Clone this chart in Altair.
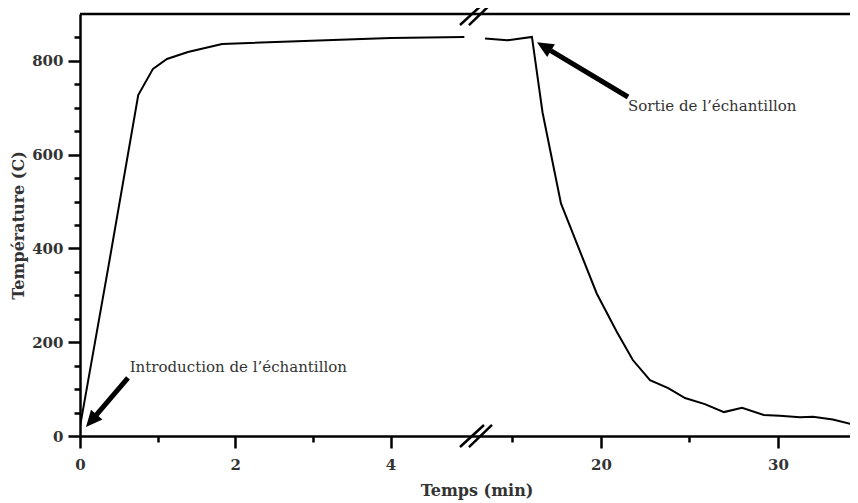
import altair as alt
import pandas as pd

# ---- data ----
# furnace phase (left part of the broken time axis)
left_time = [0, 0.37, 0.75, 0.94, 1.12, 1.39, 1.83, 4.0, 4.95]
left_temp = [20, 365, 727, 783, 804, 819, 836, 849, 851]
# after the break: end of dwell, sample removed, cooling
right_time = [13.45, 14.7, 16.1, 16.7, 17.74, 19.76, 20.9, 21.8, 22.77, 23.8,
              24.75, 25.87, 26.95, 27.97, 29.2, 30.1, 31.24, 31.98, 33.1, 34.5]
right_temp = [848, 844, 851, 690, 496, 304, 222, 162, 119, 102,
              81, 68, 51, 60, 45, 43, 40, 41, 35, 22]

# broken axis: 0-5.1 min, then 12.94-34.07 min (the reference is cropped at the right)
x_domain = [0, 5.1, 12.94, 34.07]
x_ticks = [0, 1, 2, 3, 4, 15, 20, 25, 30]
x_labeled = [0, 2, 4, 20, 30]
y_ticks = [0, 50, 100, 150, 200, 250, 300, 350, 400, 450, 500, 550, 600,
           650, 700, 750, 800, 850]
y_domain = [0, 900]

annot_text = ["Introduction de l\u2019\u00e9chantillon", "Sortie de l\u2019\u00e9chantillon"]
annot_x = [0.64, 21.53]
annot_y = [147, 704]

arrow_tail_x = [0.618, 21.53]
arrow_tail_y = [124, 723]
arrow_base_x = [0.211, 17.16]
arrow_base_y = [45, 822]
arrow_tip_x = [0.077, 16.38]
arrow_tip_y = [19, 840]
arrow_angle = [220.6, 301.1]

break_x = [5.1, 5.1]
break_y = [0, 900]

# ---- tables ----
line_df = pd.DataFrame({
    "t": left_time + right_time,
    "T": left_temp + right_temp,
    "seg": ["a"] * len(left_time) + ["b"] * len(right_time),
})
annot_df = pd.DataFrame({"t": annot_x, "T": annot_y, "label": annot_text})
shaft_df = pd.DataFrame({"t": arrow_tail_x, "T": arrow_tail_y,
                         "t2": arrow_base_x, "T2": arrow_base_y})
head_df = pd.DataFrame({"t": arrow_tip_x, "T": arrow_tip_y, "angle": arrow_angle})
break_df = pd.DataFrame({"t": break_x, "T": break_y})
frame_df = pd.DataFrame({"t": [x_domain[0]], "t2": [x_domain[-1]], "T": [y_domain[1]]})

PLOT_W = 770
PLOT_H = 422
TXT = "#333333"
LBL_FONT = "DejaVu Serif"

x_scale = alt.Scale(domain=x_domain, range=[0, 396, 396, PLOT_W], nice=False, zero=False)
y_scale = alt.Scale(domain=y_domain, nice=False, zero=False)

x_test = "indexof([0, 2, 4, 20, 30], datum.value) >= 0"
y_test = "datum.value % 200 === 0"

x_axis = alt.Axis(
    values=x_ticks,
    labelExpr=f"{x_test} ? datum.label : ''",
    tickSize={"condition": {"test": x_test, "value": 12}, "value": 6},
    title="Temps (min)",
    titleX=396.5,
    titlePadding=10,
    labelPadding=9,
    labelFlush=False,
    labelOverlap=False,
    grid=False,
)
y_axis = alt.Axis(
    values=y_ticks,
    labelExpr=f"{y_test} ? datum.label : ''",
    tickSize={"condition": {"test": y_test, "value": 12}, "value": 6},
    title="Temp\u00e9rature (C)",
    titlePadding=5,
    labelPadding=5,
    labelFlush=False,
    labelOverlap=False,
    grid=False,
)


def X(field="t"):
    return alt.X(f"{field}:Q", scale=x_scale, axis=x_axis)


def Y(field="T"):
    return alt.Y(f"{field}:Q", scale=y_scale, axis=y_axis)


frame = alt.Chart(frame_df).mark_rule(color="black", strokeWidth=2.5).encode(
    x=X(), x2="t2:Q", y=Y()
)

line = alt.Chart(line_df).mark_line(color="black", strokeWidth=2, clip=True).encode(
    x=X(), y=Y(), detail="seg:N"
)

shafts = alt.Chart(shaft_df).mark_rule(color="black", strokeWidth=5).encode(
    x=X(), y=Y(), x2="t2:Q", y2="T2:Q"
)

heads = alt.Chart(head_df).mark_point(
    shape="M0,0L0.5,1.1L-0.5,1.1Z", filled=True, size=900, opacity=1,
    color="black", strokeWidth=0
).encode(x=X(), y=Y(), angle=alt.Angle("angle:Q", scale=None))

breaks = alt.Chart(break_df).mark_point(
    shape="M-1,0.69L0.5,-0.69M-0.44,0.69L1,-0.69", filled=False, size=1024,
    opacity=1, color="black", strokeWidth=2.5
).encode(x=X(), y=Y())

annots = alt.Chart(annot_df).mark_text(
    align="left", baseline="middle", font="DejaVu Serif", fontSize=15, color=TXT
).encode(x=X(), y=Y(), text="label:N")

chart = alt.layer(frame, line, shafts, heads, breaks, annots).properties(
    width=PLOT_W,
    height=PLOT_H,
    autosize=alt.AutoSizeParams(type="none"),
    padding={"left": 72, "top": 6, "right": 0, "bottom": 66},
).configure_view(stroke=None).configure_axis(
    domainColor="black",
    domainWidth=2.5,
    tickColor="black",
    tickWidth=2.5,
    labelFont=LBL_FONT,
    labelFontWeight="bold",
    labelFontSize=15,
    labelColor=TXT,
    titleFont=LBL_FONT,
    titleFontWeight="bold",
    titleFontSize=16,
    titleColor=TXT,
)

chart.save("out.html", embed_options={"renderer": "svg", "actions": False})
